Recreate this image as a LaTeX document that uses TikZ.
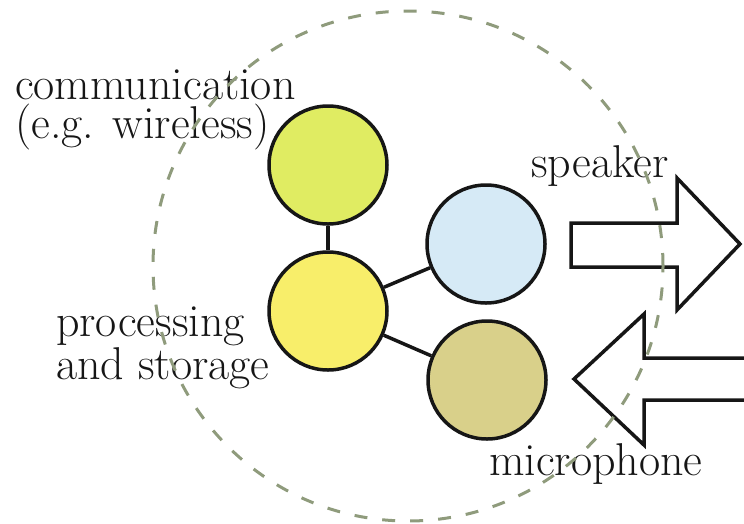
\documentclass[tikz,border=0pt]{standalone}
\usepackage{tikz}
\usetikzlibrary{calc}

\definecolor{commfill}{HTML}{E0EC62}
\definecolor{procfill}{HTML}{F8EE6A}
\definecolor{spkfill}{HTML}{D6EAF6}
\definecolor{micfill}{HTML}{D9D08A}
\definecolor{ringgray}{HTML}{8F9B7C}
\definecolor{ink}{HTML}{161616}

\tikzset{
  blob/.style={circle,draw=ink,line width=3.5pt,minimum size=118pt,inner sep=0pt},
  lbl/.style={inner sep=0pt,text=ink,font=\fontsize{46}{39}\selectfont,align=left},
  link/.style={draw=ink,line width=3.5pt},
  sound/.style={draw=ink,line width=3.5pt,line join=miter},
  ring/.style={draw=ringgray,line width=3pt,dash pattern=on 13pt off 15pt}
}

\begin{document}
\begin{tikzpicture}[x=1pt,y=-1pt]
\useasboundingbox (0,0) rectangle (744,523);
\clip (0,0) rectangle (744,523);

\node[blob,fill=commfill](comm) at (328,165){};
\node[blob,fill=procfill](proc) at (328,311){};
\node[blob,fill=spkfill](spk) at (486,244){};
\node[blob,fill=micfill](mic) at (487,380){};

% base anchor sits on the last line
\node[lbl,anchor=base west](commtxt) at (15,138){communication\\(e.g. wireless)};
\node[lbl,anchor=base west](proctxt) at (56,379){processing\\and storage};
\node[lbl,anchor=base west](spktxt) at (531,177){speaker};
\node[lbl,anchor=base west](mictxt) at (489,475){microphone};

\path
(comm) edge[link] (proc)
(proc) edge[link] (spk)
(proc) edge[link] (mic);

% out to the speaker
\draw[sound] (571,223) -- (677,223) -- (677,178) -- (740,244)
  -- (677,310) -- (677,267) -- (571,267) -- cycle;
% in from the microphone
\draw[sound] (760,358) -- (644,358) -- (644,314) -- (574,379)
  -- (644,445) -- (644,400) -- (760,400);

\draw[ring] (408,266) circle [radius=255pt];
\end{tikzpicture}
\end{document}
